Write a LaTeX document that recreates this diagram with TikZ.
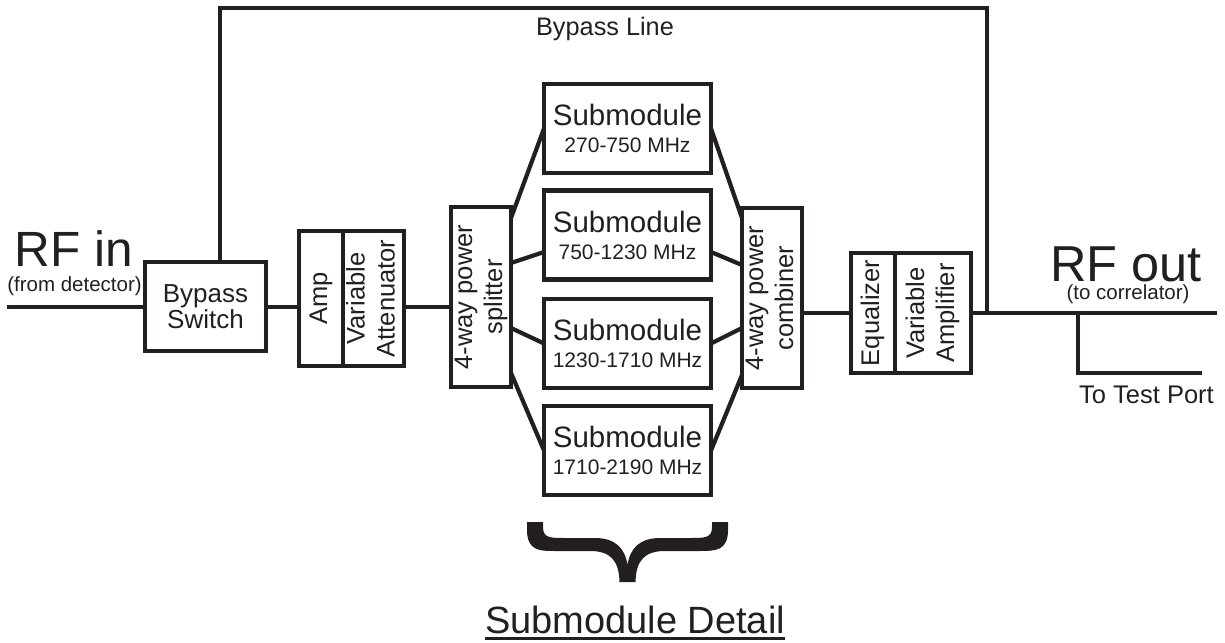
\documentclass[tikz,border=0pt]{standalone}
\usepackage{fontspec}
\usepackage{graphicx}
\setmainfont{Liberation Sans}
\usetikzlibrary{calc}
\definecolor{ink}{HTML}{231F20}

\newcommand\vtext[1]{\rotatebox{90}{\begin{tabular}{@{}c@{}}#1\end{tabular}}}

\begin{document}
\begin{tikzpicture}[x=1pt,y=-1pt,
  wire/.style={draw=ink, line width=4.2pt},
  blk/.style={draw=ink, line width=4.3pt, inner sep=0pt, outer sep=0pt,
    text=ink, align=center},
  lbl25/.style={font=\fontsize{25.5}{30}\selectfont},
  subbox/.style={blk, minimum width=167, minimum height=89,
    font=\fontsize{29.5}{27}\selectfont},
  txt/.style={inner sep=0pt, outer sep=0pt, text=ink, anchor=base}]
\useasboundingbox (0,0) rectangle (1225,642);

% --- blocks ---
\node[blk, minimum width=121, minimum height=89,
  font=\fontsize{26}{26}\selectfont] (sw) at (205.5,306.5) {Bypass\\Switch};
\node[blk, lbl25, minimum width=44, minimum height=135] (amp) at (321,298.5) {\vtext{Amp}};
\node[blk, lbl25, minimum width=61, minimum height=135] (att) at (373.5,298.5) {\vtext{Variable\\Attenuator}};
\node[blk, lbl25, minimum width=58, minimum height=180] (split) at (481,297) {\vtext{4-way power\\splitter}};

\node[subbox] (s1) at (627.5,128.5) {Submodule\\{\fontsize{21}{21}\selectfont 270-750 MHz}};
\node[subbox] (s2) at (627.5,235) {Submodule\\{\fontsize{21}{21}\selectfont 750-1230 MHz}};
\node[subbox] (s3) at (627.5,343.5) {Submodule\\{\fontsize{21}{21}\selectfont 1230-1710 MHz}};
\node[subbox] (s4) at (627.5,450.5) {Submodule\\{\fontsize{21}{21}\selectfont 1710-2190 MHz}};

\node[blk, lbl25, minimum width=58, minimum height=180] (comb) at (772,298) {\vtext{4-way power\\combiner}};
\node[blk, lbl25, minimum width=44, minimum height=120] (eq) at (873,313) {\vtext{Equalizer}};
\node[blk, lbl25, minimum width=76, minimum height=120] (va) at (933,313) {\vtext{Variable\\Amplifier}};

% --- labels ---
\node[txt, font=\fontsize{49.5}{49}\selectfont] (rfin) at (73.5,266) {RF in};
\node[txt, font=\fontsize{20.5}{20}\selectfont] (rfinsub) at (74.5,291) {(from detector)};
\node[txt, font=\fontsize{50.5}{50}\selectfont] (rfout) at (1126,281) {RF out};
\node[txt, font=\fontsize{20.5}{21}\selectfont] (rfoutsub) at (1128,299.5) {(to correlator)};
\node[txt, font=\fontsize{25.3}{25}\selectfont] (bypl) at (605,36) {Bypass Line};
\node[txt, font=\fontsize{25.5}{25}\selectfont] (tpl) at (1146.5,403) {To Test Port};
\node[txt, font=\fontsize{38}{38}\selectfont] (det) at (635,633.5) {Submodule Detail};
\draw[ink, line width=3pt] ($(det.base west)+(0,5)$) -- ($(det.base east)+(0,5)$);

% --- free ends of the signal path ---
\coordinate (in) at (7,307);
\coordinate (out) at (1217,313);
\coordinate (byL) at (220,8);
\coordinate (byR) at (987,8);
\coordinate (tap) at (1078,313);
\coordinate (tpc) at (1078,373);
\coordinate (tpe) at (1202,373);

% --- main path ---
\draw[wire] (in) -- (in -| sw.west);
\draw[wire] (in -| sw.east) -- (in -| amp.west);
\draw[wire] (in -| att.east) -- (in -| split.west);

\draw[wire] ($(split.east)+(0,-79)$) -- (s1.west);
\draw[wire] ($(split.east)+(0,-34)$) -- ($(s2.west)+(0,17)$);
\draw[wire] ($(split.east)+(0,31)$) -- (s3.west);
\draw[wire] ($(split.east)+(0,76)$) -- (s4.west);

\draw[wire] (s1.east) -- ($(comb.west)+(0,-80)$);
\draw[wire] ($(s2.east)+(0,17)$) -- ($(comb.west)+(0,-33)$);
\draw[wire] (s3.east) -- ($(comb.west)+(0,30)$);
\draw[wire] (s4.east) -- ($(comb.west)+(0,77)$);

\draw[wire] (eq.west -| comb.east) -- (eq.west);
\draw[wire] (va.east) -- (out);

% --- bypass line ---
\draw[wire] (sw.north -| byL) -- (byL) -- (byR) -- (byR |- out);

% --- test port branch ---
\draw[wire] (tap) -- (tpc) -- (tpe);

% --- brace ---
\fill[ink] (527,522) -- (543,522) -- (543,527)
  .. controls (543,538) and (550,538) .. (565,538) -- (595,538)
  .. controls (615,538) and (625,548) .. (627.5,565)
  .. controls (630,548) and (640,538) .. (660,538) -- (690,538)
  .. controls (705,538) and (712,538) .. (712,527) -- (712,522) -- (728,522) -- (728,530)
  .. controls (728,551) and (715,551) .. (700,551) -- (665,551)
  .. controls (645,551) and (636,560) .. (635.5,582) -- (619.5,582)
  .. controls (619,560) and (610,551) .. (590,551) -- (555,551)
  .. controls (540,551) and (527,551) .. (527,530) -- cycle;
\end{tikzpicture}
\end{document}
